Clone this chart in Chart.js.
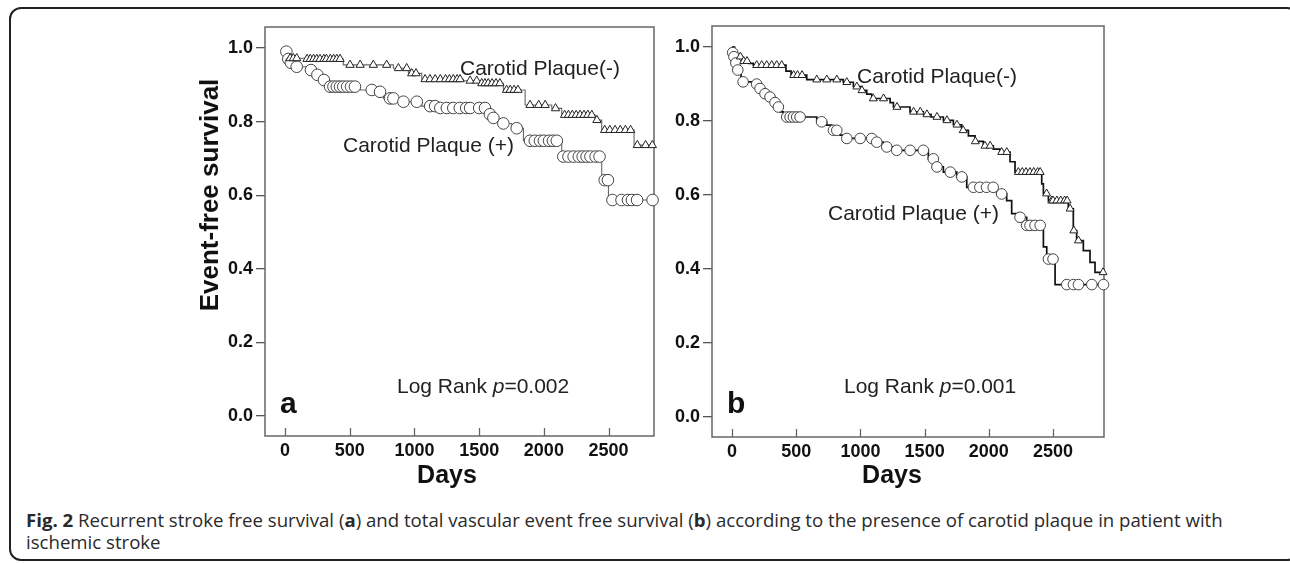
<!DOCTYPE html>
<html lang="en">
<head>
  <meta charset="UTF-8" />
  <title>Fig. 2 Event-free survival by carotid plaque</title>
  <script src="https://cdn.jsdelivr.net/npm/chart.js"></script>
  <style>
    body {
      margin: 0;
      width: 1290px;
      height: 563px;
      overflow: hidden;
      position: relative;
      background: #fff;
      font-family: 'Liberation Sans', Arial, sans-serif;
    }
    .frame {
      position: absolute;
      left: 9px;
      top: 7px;
      width: 1290px;
      height: 554px;
      border: 2px solid #222;
      border-radius: 12px;
      box-sizing: border-box;
    }
    .panel { position: absolute; top: 0; }
    #panelA { left: 150px; }
    #panelB { left: 670px; }
    .caption {
      position: absolute;
      left: 26px;
      top: 509px;
      font-family: 'Open Sans', sans-serif;
      font-size: 18px;
      line-height: 22px;
      color: #2a2a2a;
      white-space: nowrap;
      transform-origin: left top;
    }
  </style>
</head>
<body>
  <div class="frame"></div>
  <canvas id="panelA" class="panel" width="520" height="500"></canvas>
  <canvas id="panelB" class="panel" width="450" height="500"></canvas>
  <div class="caption" id="caption">
    <span id="capLine1"><b>Fig. 2</b> Recurrent stroke free survival (<b>a</b>) and total vascular event free survival (<b>b</b>) according to the presence of carotid plaque in patient with</span><br>
    <span>ischemic stroke</span>
  </div>

  <script>
    // axis ticks
    const xTicks = [0, 500, 1000, 1500, 2000, 2500];
    const yTicks = [0, 0.2, 0.4, 0.6, 0.8, 1.0];

    // panel a - recurrent stroke, carotid plaque (-)
    const aNegTime = [0, 10, 25, 150, 450, 837, 953, 1056, 1378, 1494, 1687, 1855, 2061, 2138, 2396, 2447, 2697, 2845];
    const aNegSurv = [1.0, 0.985, 0.972, 0.970, 0.954, 0.945, 0.931, 0.915, 0.911, 0.904, 0.886, 0.845, 0.836, 0.818, 0.804, 0.777, 0.736, 0.736];
    const aNegCensor = [39, 64, 90, 170, 195, 220, 245, 270, 300, 320, 350, 375, 400, 425, 502, 580, 682, 785, 876, 940, 979, 1012,
      1082, 1120, 1160, 1200, 1240, 1270, 1300, 1330, 1352, 1430, 1481, 1520, 1545, 1570, 1600, 1630, 1660, 1712, 1740, 1770, 1800,
      1893, 1960, 2010, 2090, 2160, 2190, 2220, 2250, 2280, 2310, 2340, 2370, 2410, 2470, 2510, 2550, 2590, 2630, 2670, 2722, 2786, 2838];

    // panel a - carotid plaque (+)
    const aPosTime = [0, 5, 12, 20, 30, 50, 80, 167, 232, 283, 309, 580, 682, 760, 863, 1056, 1172, 1559, 1597, 1649, 1752, 1842, 2138, 2447, 2499, 2845];
    const aPosSurv = [1.0, 0.99, 0.98, 0.97, 0.96, 0.955, 0.949, 0.94, 0.927, 0.913, 0.895, 0.886, 0.881, 0.863, 0.854, 0.842, 0.837, 0.82, 0.81, 0.795, 0.782, 0.748, 0.705, 0.641, 0.587, 0.587];
    const aPosCensor = [10, 25, 45, 90, 200, 250, 300, 348, 374, 400, 425, 450, 480, 510, 540, 670, 734, 811, 837, 915, 1018,
      1121, 1160, 1200, 1250, 1300, 1350, 1400, 1430, 1500, 1545, 1583, 1610, 1687, 1790,
      1893, 1930, 1970, 2000, 2040, 2070, 2100, 2150, 2190, 2230, 2270, 2300, 2330, 2360, 2400, 2430, 2470, 2495,
      2530, 2600, 2650, 2680, 2720, 2840];

    // panel b - total vascular event, carotid plaque (-)
    const bNegTime = [0, 20, 40, 80, 130, 166, 420, 460, 582, 867, 945, 1010, 1049, 1088, 1231, 1257, 1386, 1490, 1550, 1646, 1724, 1789,
      1841, 1893, 1957, 2035, 2087, 2165, 2204, 2412, 2425, 2464, 2619, 2658, 2684, 2736, 2788, 2827, 2895];
    const bNegSurv = [1.0, 0.985, 0.974, 0.962, 0.956, 0.951, 0.935, 0.924, 0.912, 0.905, 0.893, 0.883, 0.873, 0.861, 0.85, 0.838, 0.825, 0.818, 0.811, 0.802, 0.79, 0.775,
      0.76, 0.745, 0.733, 0.724, 0.716, 0.69, 0.662, 0.63, 0.604, 0.585, 0.563, 0.504, 0.477, 0.45, 0.418, 0.391, 0.391];
    const bNegCensor = [65, 91, 117, 192, 231, 270, 309, 348, 387, 480, 510, 545, 660, 738, 816, 894, 972, 1012, 1100, 1180, 1285,
      1414, 1466, 1518, 1596, 1674, 1752, 1800, 1895, 1970, 2010, 2100, 2140, 2230, 2260, 2290, 2320, 2350, 2380, 2400,
      2450, 2490, 2500, 2530, 2560, 2590, 2610, 2633, 2662, 2698, 2890];

    // panel b - carotid plaque (+)
    const bPosTime = [0, 5, 12, 25, 40, 70, 179, 205, 244, 283, 322, 348, 374, 400, 660, 737, 776, 841, 880, 1127, 1178, 1256, 1529, 1581,
      1646, 1750, 1828, 2062, 2139, 2178, 2230, 2295, 2425, 2451, 2516, 2895];
    const bPosSurv = [1.0, 0.985, 0.974, 0.957, 0.938, 0.906, 0.9, 0.888, 0.874, 0.865, 0.85, 0.838, 0.825, 0.811, 0.798, 0.789, 0.775, 0.762, 0.753, 0.743, 0.73, 0.721, 0.698, 0.676,
      0.662, 0.649, 0.621, 0.603, 0.585, 0.55, 0.54, 0.518, 0.46, 0.427, 0.358, 0.358];
    const bPosCensor = [5, 15, 30, 45, 86, 192, 218, 257, 296, 335, 361, 426, 452, 478, 504, 530, 698, 790, 816, 894, 998, 1088, 1127,
      1205, 1283, 1387, 1490, 1568, 1596, 1700, 1790, 1880, 1930, 1982, 2034, 2100, 2243, 2295, 2321, 2360, 2400, 2464, 2500,
      2607, 2659, 2698, 2802, 2893];

    const FONT = "'Liberation Sans', Arial, sans-serif";

    function stepPoints(t, s) {
      return t.map((v, i) => ({ x: v, y: s[i] }));
    }

    // survival value of the step curve at day x
    function survAt(t, s, x) {
      let v = s[0];
      for (let i = 0; i < t.length; i++) {
        if (t[i] <= x) v = s[i];
      }
      return v;
    }

    function censorPoints(t, s, c) {
      return c.map(x => ({ x: x, y: survAt(t, s, x) }));
    }

    // frame, inward x ticks and text labels
    const decor = {
      id: 'decor',
      beforeDatasetsDraw(chart, args, opts) {
        const { ctx, chartArea: a, scales } = chart;
        ctx.save();
        ctx.strokeStyle = '#666';
        ctx.lineWidth = 1.5;
        ctx.strokeRect(a.left, a.top, a.right - a.left, a.bottom - a.top);
        ctx.lineWidth = 1.3;
        ctx.beginPath();
        xTicks.forEach(v => {
          const px = Math.round(scales.x.getPixelForValue(v)) + 0.5;
          ctx.moveTo(px, a.bottom);
          ctx.lineTo(px, a.bottom - 8);
        });
        ctx.stroke();
        ctx.restore();
      },
      afterDraw(chart, args, opts) {
        const ctx = chart.ctx;
        ctx.save();
        ctx.textBaseline = 'alphabetic';
        opts.texts.forEach(t => {
          ctx.fillStyle = t.color || '#222';
          let x = t.x;
          if (t.rotate) {
            ctx.save();
            ctx.translate(t.x, t.y);
            ctx.rotate(-Math.PI / 2);
            ctx.font = t.font;
            ctx.textAlign = 'center';
            ctx.fillText(t.parts[0][0], 0, 0);
            ctx.restore();
            return;
          }
          if (t.center) {
            let w = 0;
            t.parts.forEach(p => { ctx.font = p[1] || t.font; w += ctx.measureText(p[0]).width; });
            x -= w / 2;
          }
          ctx.textAlign = 'left';
          t.parts.forEach(p => {
            ctx.font = p[1] || t.font;
            ctx.fillText(p[0], x, t.y);
            x += ctx.measureText(p[0]).width;
          });
        });
        ctx.restore();
      }
    };

    function makePanel(id, cfg) {
      return new Chart(document.getElementById(id), {
        type: 'scatter',
        data: {
          datasets: [
            {
              data: stepPoints(cfg.negTime, cfg.negSurv),
              showLine: true, stepped: true, pointRadius: 0,
              borderColor: cfg.lineColor, borderWidth: cfg.lineWidth, order: 1
            },
            {
              data: stepPoints(cfg.posTime, cfg.posSurv),
              showLine: true, stepped: true, pointRadius: 0,
              borderColor: cfg.lineColor, borderWidth: cfg.lineWidth, order: 1
            },
            {
              data: censorPoints(cfg.negTime, cfg.negSurv, cfg.negCensor),
              showLine: false, pointStyle: 'triangle', pointRadius: cfg.triRadius,
              pointBackgroundColor: '#fff', pointBorderColor: '#222', pointBorderWidth: 1, order: 0, clip: false
            },
            {
              data: censorPoints(cfg.posTime, cfg.posSurv, cfg.posCensor),
              showLine: false, pointStyle: 'circle', pointRadius: cfg.circRadius,
              pointBackgroundColor: '#fff', pointBorderColor: '#444', pointBorderWidth: 1, order: 0, clip: false
            }
          ]
        },
        options: {
          responsive: false,
          animation: false,
          devicePixelRatio: 1,
          events: [],
          layout: { padding: { left: 0, right: cfg.padRight, top: cfg.padTop, bottom: 0 } },
          plugins: {
            legend: { display: false },
            tooltip: { enabled: false },
            decor: { texts: cfg.texts }
          },
          scales: {
            x: {
              type: 'linear',
              min: cfg.xMin, max: cfg.xMax,
              afterBuildTicks: s => { s.ticks = xTicks.map(v => ({ value: v })); },
              afterFit: s => { s.height = cfg.xHeight; },
              grid: { display: false, drawTicks: false },
              border: { display: false },
              ticks: {
                padding: 4,
                color: '#111',
                font: { family: FONT, size: 18, weight: 'bold' },
                callback: v => String(v)
              }
            },
            y: {
              type: 'linear',
              min: -0.054, max: 1.057,
              afterBuildTicks: s => { s.ticks = yTicks.map(v => ({ value: v })); },
              afterFit: s => { s.width = cfg.yWidth; },
              grid: { drawOnChartArea: false, drawTicks: true, tickLength: 9, color: '#555', lineWidth: 1.3 },
              border: { display: false },
              ticks: {
                padding: 3,
                color: '#111',
                font: { family: FONT, size: 18, weight: 'bold' },
                callback: v => v.toFixed(1)
              }
            }
          }
        },
        plugins: [decor]
      });
    }

    const labelFont = '21px ' + FONT;
    const italicFont = 'italic 21px ' + FONT;

    makePanel('panelA', {
      negTime: aNegTime, negSurv: aNegSurv, negCensor: aNegCensor,
      posTime: aPosTime, posSurv: aPosSurv, posCensor: aPosCensor,
      lineColor: '#666', lineWidth: 1.1, triRadius: 4.8, circRadius: 5.8,
      xMin: -155, xMax: 2851, yWidth: 115, xHeight: 64, padRight: 16, padTop: 27,
      texts: [
        { x: 68, y: 195, rotate: true, font: 'bold 26px ' + FONT, color: '#111', parts: [['Event-free survival']] },
        { x: 310, y: 75, font: labelFont, parts: [['Carotid Plaque(-)']] },
        { x: 193, y: 152, font: labelFont, parts: [['Carotid Plaque (+)']] },
        { x: 247, y: 393, font: labelFont, parts: [['Log Rank '], ['p', italicFont], ['=0.002']] },
        { x: 130, y: 413, font: 'bold 30px ' + FONT, color: '#111', parts: [['a']] },
        { x: 297, y: 483, center: true, font: 'bold 25px ' + FONT, color: '#111', parts: [['Days']] }
      ]
    });

    makePanel('panelB', {
      negTime: bNegTime, negSurv: bNegSurv, negCensor: bNegCensor,
      posTime: bPosTime, posSurv: bPosSurv, posCensor: bPosCensor,
      lineColor: '#111', lineWidth: 1.7, triRadius: 4.6, circRadius: 5.3,
      xMin: -156, xMax: 2897, yWidth: 42, xHeight: 63, padRight: 16, padTop: 26,
      texts: [
        { x: 187, y: 83, font: labelFont, parts: [['Carotid Plaque(-)']] },
        { x: 158, y: 220, font: labelFont, parts: [['Carotid Plaque (+)']] },
        { x: 174, y: 393, font: labelFont, parts: [['Log Rank '], ['p', italicFont], ['=0.001']] },
        { x: 57, y: 413, font: 'bold 30px ' + FONT, color: '#111', parts: [['b']] },
        { x: 222, y: 483, center: true, font: 'bold 25px ' + FONT, color: '#111', parts: [['Days']] }
      ]
    });

    // squeeze the caption to the width it has in the figure
    const cap = document.getElementById('caption');
    const w1 = document.getElementById('capLine1').getBoundingClientRect().width;
    cap.style.transform = 'scaleX(' + (1197 / w1).toFixed(3) + ')';
  </script>
</body>
</html>
